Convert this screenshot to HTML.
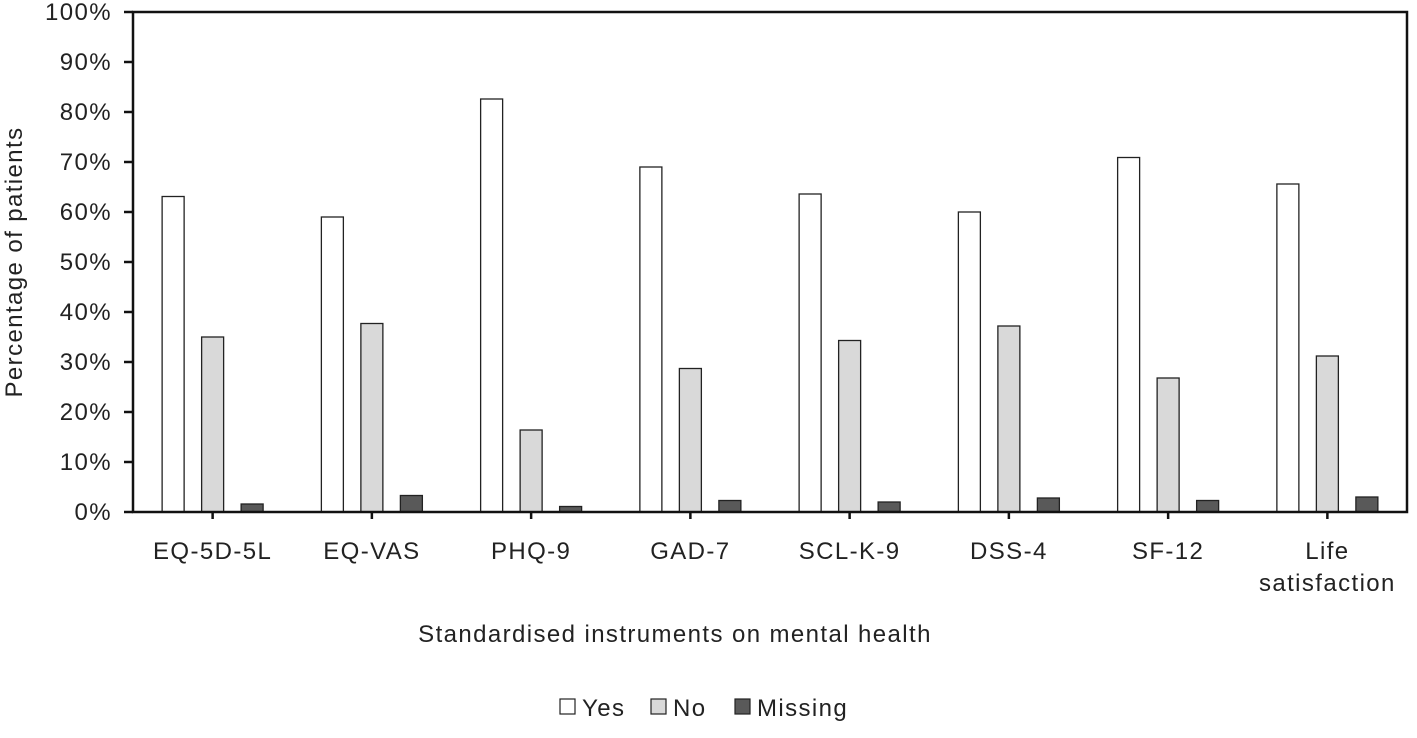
<!DOCTYPE html>
<html><head><meta charset="utf-8"><style>
body{margin:0;background:#fff;}
svg{display:block;font-family:"Liberation Sans",sans-serif;}
text{letter-spacing:1.4px;}
</style></head><body>
<svg id="chart" width="1417" height="738" viewBox="0 0 1417 738" xmlns="http://www.w3.org/2000/svg">
<g id="grid"></g><g id="bars"></g><g id="axes"></g>
</svg>
<script>
const categories = [["EQ-5D-5L"],["EQ-VAS"],["PHQ-9"],["GAD-7"],["SCL-K-9"],["DSS-4"],["SF-12"],["Life","satisfaction"]];
const yesValues = [63.1, 59.0, 82.6, 69.0, 63.6, 60.0, 70.9, 65.6];
const noValues = [35.0, 37.7, 16.4, 28.7, 34.3, 37.2, 26.8, 31.2];
const missingValues = [1.6, 3.3, 1.1, 2.3, 2.0, 2.8, 2.3, 3.0];
const yTicks = [0,10,20,30,40,50,60,70,80,90,100];
const seriesNames = ["Yes","No","Missing"];

const NS="http://www.w3.org/2000/svg";
const L=133,R=1407,T=12,B=512;
const y=v=>B-(v/100)*(B-T);
const cw=(R-L)/categories.length;
const xc=i=>L+cw*(i+0.5);
function mk(tag,attrs,parent){const e=document.createElementNS(NS,tag);for(const k in attrs)e.setAttribute(k,attrs[k]);parent.appendChild(e);return e;}
const bars=document.getElementById('bars'),axes=document.getElementById('axes');
const series=[yesValues,noValues,missingValues];
const fills=["#ffffff","#d9d9d9","#595959"];
series.forEach((vals,s)=>{
  vals.forEach((v,i)=>{
    const r=mk('rect',{x:xc(i)+(s-1)*39.5-11,y:y(v),width:22,height:B-y(v),fill:fills[s],stroke:"#222","stroke-width":1.3},bars);
    
    
  });
});
const fr=mk('rect',{x:L,y:T,width:R-L,height:B-T,fill:"none",stroke:"#111","stroke-width":2.5},axes);


yTicks.forEach(t=>{
  mk('line',{x1:L-9,x2:L,y1:y(t),y2:y(t),stroke:"#111","stroke-width":2.5},axes);
  const tx=mk('text',{x:L-21,y:y(t)+8,"text-anchor":"end","font-size":24,fill:"#222"},axes);
  tx.textContent=t+"%";
  
  
});
categories.forEach((c,i)=>{
  mk('line',{x1:xc(i),x2:xc(i),y1:B,y2:B+7,stroke:"#111","stroke-width":2.5},axes);
  c.forEach((ln,j)=>{
    const tx=mk('text',{x:xc(i),y:559+j*32,"text-anchor":"middle","font-size":24,fill:"#222"},axes);
    tx.textContent=ln;
    
    
  });
});
let t=mk('text',{x:675,y:642,"text-anchor":"middle","font-size":24,fill:"#222"},axes);
t.textContent="Standardised instruments on mental health";


t=mk('text',{x:0,y:0,transform:"translate(22,262) rotate(-90)","text-anchor":"middle","font-size":24,fill:"#222"},axes);
t.textContent="Percentage of patients";


const lx=[560,651,735];
seriesNames.forEach((n,s)=>{
  const g=mk('g',{},axes);
  
  
  mk('rect',{x:lx[s],y:699,width:15,height:15,fill:fills[s],stroke:"#222","stroke-width":1.2},g);
  const tx=mk('text',{x:lx[s]+22,y:716,"font-size":24,fill:"#222"},g);
  tx.textContent=n;
});
</script>
</body></html>
